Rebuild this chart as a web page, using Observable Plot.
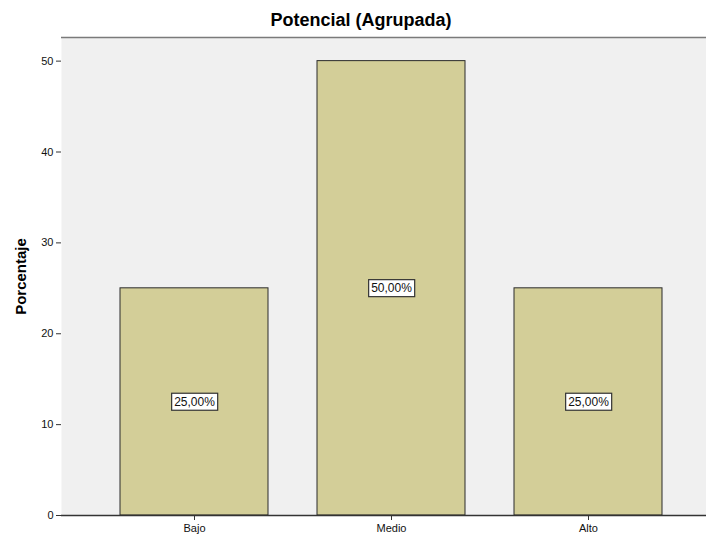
<!DOCTYPE html>
<html>
<head>
<meta charset="utf-8">
<script src="https://cdn.jsdelivr.net/npm/d3@7"></script>
<script src="https://cdn.jsdelivr.net/npm/@observablehq/plot@0.6"></script>
<style>
  html, body { margin: 0; padding: 0; background: #fff; overflow: hidden; }
  #wrap { position: relative; width: 706px; height: 536px; overflow: hidden; font-family: "Liberation Sans", Arial, sans-serif; }
  #title { position: absolute; left: 0; top: 10px; width: 722px; text-align: center; font-size: 18px; font-weight: bold; color: #000; white-space: nowrap; }
  #chart { position: absolute; left: 0; top: 0; }
</style>
</head>
<body>
<div id="wrap">
  <div id="chart"></div>
  <div id="title">Potencial (Agrupada)</div>
</div>
<script>
// Potencial (Agrupada): share of cases in each grouped level
const categories = ["Bajo", "Medio", "Alto"];
const percentages = [25, 50, 25];
const yTicks = [0, 10, 20, 30, 40, 50];
const yMax = 52.6;

const rows = categories.map((c, i) => ({ category: c, value: percentages[i] }));
const fmt = v => v.toFixed(2).replace(".", ",") + "%";

const chart = Plot.plot({
  width: 706,
  height: 536,
  marginTop: 37,
  marginBottom: 21,
  marginLeft: 61,
  marginRight: -14,
  style: { fontFamily: "Liberation Sans, Arial, sans-serif", fontSize: "11px", color: "#111", background: "transparent", overflow: "hidden" },
  x: { domain: categories, paddingInner: 0.25, paddingOuter: 0.294, label: null },
  y: { domain: [0, yMax], label: null },
  marks: [
    Plot.frame({ fill: "#f0f0f0", stroke: "none" }),
    Plot.ruleY([yMax], { stroke: "#7a7a7a", strokeWidth: 1.5 }),
    Plot.barY(rows, { x: "category", y: "value", fill: "#d3ce98", stroke: "#2b2b2b", strokeWidth: 1 }),
    Plot.ruleX([0], { frameAnchor: "left", stroke: "#333", strokeWidth: 1.5 }),
    Plot.ruleY([0], { stroke: "#333", strokeWidth: 1.5 }),
    Plot.axisY({ ticks: yTicks, tickSize: 5, tickPadding: 3, label: null, tickFormat: d => d, stroke: "#333" }),
    Plot.axisX({ tickSize: 5, tickPadding: 4, label: null, stroke: "#333" }),
    Plot.text(rows, {
      x: "category", y: d => d.value / 2, text: d => fmt(d.value),
      fontSize: 12, fill: "#111", className: "bar-label"
    }),
    Plot.text(["Porcentaje"], {
      frameAnchor: "left", textAnchor: "middle", dx: -40, rotate: -90,
      fontSize: 15, fontWeight: "bold", fill: "#000"
    })
  ]
});

document.getElementById("chart").appendChild(chart);

// Boxed value labels: a white rectangle with a dark border behind each label
d3.select(chart).selectAll("g.bar-label text").each(function () {
  const b = this.getBBox();
  const t = this.getAttribute("transform");
  d3.select(this.parentNode).insert("rect", () => this)
    .attr("transform", t)
    .attr("x", b.x - 2.5).attr("y", b.y - 1.5)
    .attr("width", b.width + 5).attr("height", b.height + 3)
    .attr("fill", "#fff").attr("stroke", "#333").attr("stroke-width", 1.2);
});
</script>
</body>
</html>
